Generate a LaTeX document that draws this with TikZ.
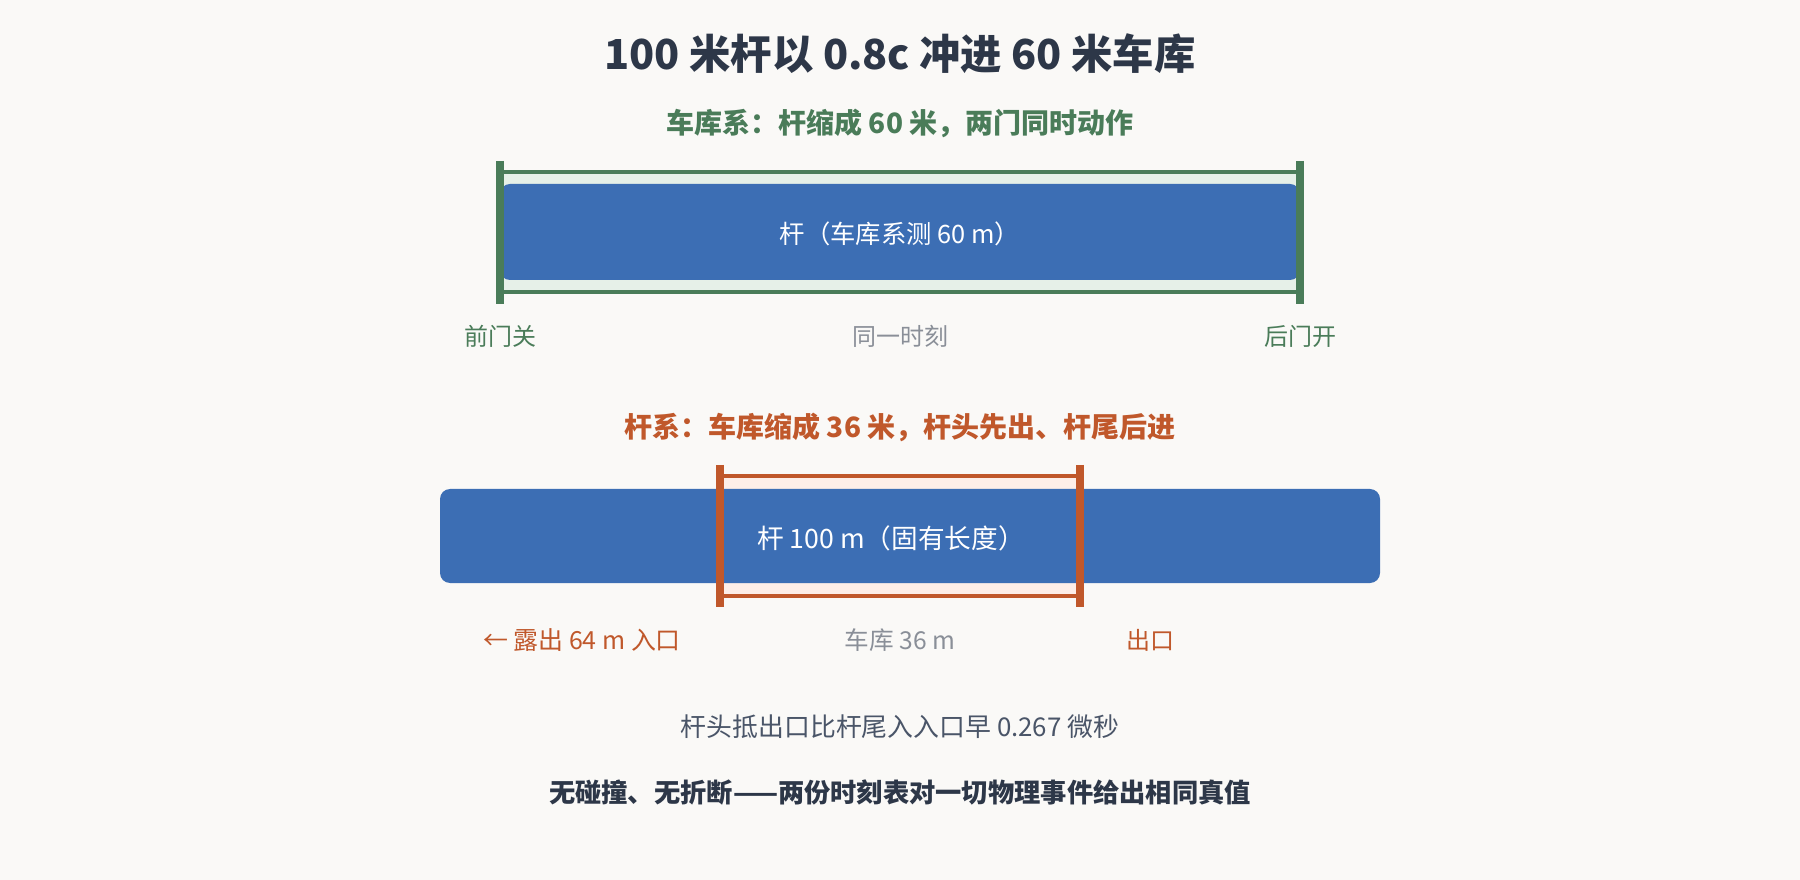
\documentclass[tikz,border=0pt]{standalone}
\usepackage{fontspec}
\setmainfont{Noto Sans CJK SC}
\definecolor{bgc}{HTML}{FAF9F7}
\definecolor{titlec}{HTML}{2D3748}
\definecolor{greenc}{HTML}{4A7C59}
\definecolor{greenfill}{HTML}{E6F0E8}
\definecolor{bluec}{HTML}{3C6EB4}
\definecolor{orangec}{HTML}{C0582B}
\definecolor{orangefill}{HTML}{FDEEE8}
\definecolor{grayc}{HTML}{8A8F98}
\definecolor{notec}{HTML}{4A5568}
\tikzset{
  txt/.style={inner sep=0pt, anchor=center},
  doorbar/.style={line width=6pt},
  wallline/.style={line width=3pt},
  rod/.style={fill=bluec, rounded corners=7.5pt},
}
\begin{document}
\begin{tikzpicture}[x=0.75pt,y=-0.75pt]
\fill[bgc] (0,0) rectangle (1800,880);
\useasboundingbox (0,0) rectangle (1800,880);

% title
\node[txt, text=titlec, font=\fontsize{31}{37}\selectfont\bfseries] (title) at (900,54) {100 米杆以 0.8c 冲进 60 米车库};

% garage frame
\node[txt, text=greenc, font=\fontsize{21}{25}\selectfont\bfseries] (sub1) at (900,123) {车库系：杆缩成 60 米，两门同时动作};
\fill[greenfill] (500,172) rectangle (1300,292);
\fill[rod] (500,184) rectangle (1300,280);
\node[txt, text=white, font=\fontsize{19}{23}\selectfont] (rod1) at (900,234) {杆（车库系测 60 m）};
\draw[greenc, wallline] (500,172) -- (1300,172);
\draw[greenc, wallline] (500,292) -- (1300,292);
\coordinate (fd1) at (500,161); \coordinate (fd2) at (500,304);
\coordinate (bd1) at (1300,161); \coordinate (bd2) at (1300,304);
\draw[greenc, doorbar] (fd1) -- (fd2);
\draw[greenc, doorbar] (bd1) -- (bd2);
\node[txt, text=greenc, font=\fontsize{18}{22}\selectfont] (front) at (500,336) {前门关};
\node[txt, text=grayc, font=\fontsize{18}{22}\selectfont] (same) at (900,336) {同一时刻};
\node[txt, text=greenc, font=\fontsize{18}{22}\selectfont] (back) at (1300,336) {后门开};

% rod frame
\node[txt, text=orangec, font=\fontsize{21}{25}\selectfont\bfseries] (sub2) at (900,427) {杆系：车库缩成 36 米，杆头先出、杆尾后进};
\fill[orangefill] (720,476) rectangle (1080,596);
\fill[rod] (440,489) rectangle (1380,583);
\node[txt, text=white, font=\fontsize{20}{24}\selectfont] (rod2) at (891,538) {杆 100 m（固有长度）};
\draw[orangec, wallline] (720,476) -- (1080,476);
\draw[orangec, wallline] (720,596) -- (1080,596);
\coordinate (en1) at (720,465); \coordinate (en2) at (720,607);
\coordinate (ex1) at (1080,465); \coordinate (ex2) at (1080,607);
\draw[orangec, doorbar] (en1) -- (en2);
\draw[orangec, doorbar] (ex1) -- (ex2);
\node[txt, text=orangec, font=\fontsize{18.7}{22}\selectfont] (entry) at (582,640) {← 露出 64 m 入口};
\node[txt, text=grayc, font=\fontsize{18.5}{22}\selectfont] (gar) at (900,640) {车库 36 m};
\node[txt, text=orangec, font=\fontsize{18}{22}\selectfont] (exit) at (1150,640) {出口};

% notes
\node[txt, text=notec, font=\fontsize{19.4}{23}\selectfont] (note1) at (900,727) {杆头抵出口比杆尾入入口早 0.267 微秒};
\node[txt, text=titlec, font=\fontsize{19.7}{24}\selectfont\bfseries] (note2) at (900,793) {无碰撞、无折断——两份时刻表对一切物理事件给出相同真值};
\end{tikzpicture}
\end{document}
